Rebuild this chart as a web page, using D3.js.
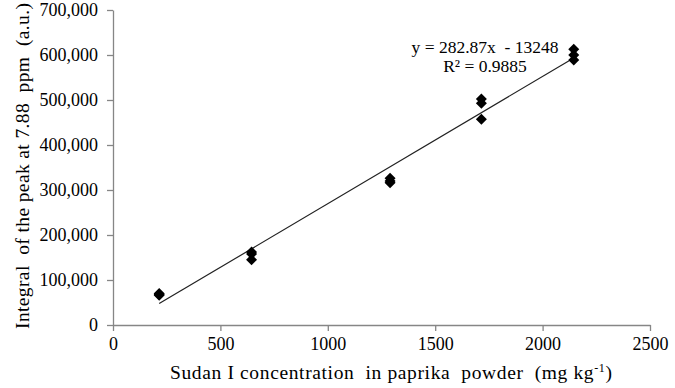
<!DOCTYPE html>
<html>
<head>
<meta charset="utf-8">
<script src="https://cdn.jsdelivr.net/npm/d3@7"></script>
<style>
  body { margin: 0; background: #fff; }
  svg { display: block; font-family: "Liberation Serif", "Times New Roman", serif; }
  text { white-space: pre; }
</style>
</head>
<body>
<script>
// concentrations (mg/kg) and replicate integrals
const concentrations = [215, 645, 1290, 1715, 2145];
const rep1 = [70000, 162000, 326000, 502000, 613000];
const rep2 = [68000, 158000, 320000, 493000, 600000];
const rep3 = [66000, 145000, 316000, 457000, 589000];

// linear fit shown on the chart
const fitSlope = 282.87;
const fitIntercept = -13248;
const fitLabels = ['y = 282.87x  - 13248', 'R² = 0.9885'];

const xTicks = [0, 500, 1000, 1500, 2000, 2500];
const yTicks = [0, 100000, 200000, 300000, 400000, 500000, 600000, 700000];

// flatten into points
const points = [];
concentrations.forEach((c, i) => {
  [rep1, rep2, rep3].forEach(r => points.push({ x: c, y: r[i] }));
});

const width = 675, height = 388;
const margin = { top: 10, right: 25, bottom: 63, left: 113 };

const svg = d3.select('body').append('svg')
  .attr('width', width)
  .attr('height', height);

const xScale = d3.scaleLinear()
  .domain([0, 2500])
  .range([margin.left, width - margin.right]);

const yScale = d3.scaleLinear()
  .domain([0, 700000])
  .range([height - margin.bottom, margin.top]);

// axes
const axisColor = '#868686';
const fmt = d3.format(',');

const xAxis = svg.append('g')
  .attr('transform', `translate(0,${yScale(0)})`)
  .call(d3.axisBottom(xScale).tickValues(xTicks).tickSize(6).tickSizeOuter(0).tickPadding(6).tickFormat(d => d));
xAxis.select('.domain').attr('stroke', axisColor).attr('stroke-width', 1.3);
xAxis.selectAll('.tick line').attr('stroke', axisColor).attr('stroke-width', 1.3);
xAxis.selectAll('text').attr('font-size', 18).attr('fill', '#000').attr('font-family', 'Liberation Serif');

const yAxis = svg.append('g')
  .attr('transform', `translate(${xScale(0)},0)`)
  .call(d3.axisLeft(yScale).tickValues(yTicks).tickSize(6).tickSizeOuter(0).tickPadding(9).tickFormat(fmt));
yAxis.select('.domain').attr('stroke', axisColor).attr('stroke-width', 1.3);
yAxis.selectAll('.tick line').attr('stroke', axisColor).attr('stroke-width', 1.3);
yAxis.selectAll('text').attr('font-size', 18).attr('fill', '#000').attr('font-family', 'Liberation Serif');

// trend line
const xMin = d3.min(concentrations), xMax = d3.max(concentrations);
svg.append('line')
  .attr('x1', xScale(xMin))
  .attr('y1', yScale(fitSlope * xMin + fitIntercept))
  .attr('x2', xScale(xMax))
  .attr('y2', yScale(fitSlope * xMax + fitIntercept))
  .attr('stroke', '#222')
  .attr('stroke-width', 1.2);

// diamond markers
const s = 5.5;
svg.append('g')
  .selectAll('path')
  .data(points)
  .join('path')
  .attr('transform', d => `translate(${xScale(d.x)},${yScale(d.y)})`)
  .attr('d', `M0,${-s}L${s},0L0,${s}L${-s},0Z`)
  .attr('fill', '#000');

// equation
svg.append('g')
  .selectAll('text')
  .data(fitLabels)
  .join('text')
  .attr('x', 485)
  .attr('y', (d, i) => 53 + i * 19)
  .attr('text-anchor', 'middle')
  .attr('font-size', 17.5)
  .text(d => d);

// axis titles
const xt = svg.append('text')
  .attr('x', 391)
  .attr('y', 379)
  .attr('text-anchor', 'middle')
  .attr('font-size', 19.5)
  .attr('textLength', 442)
  .attr('lengthAdjust', 'spacing');
xt.append('tspan').text('Sudan I concentration  in paprika  powder  (mg kg');
xt.append('tspan').attr('font-size', 12).attr('dy', -7).text('-1');
xt.append('tspan').attr('dy', 7).text(')');

svg.append('text')
  .attr('transform', `translate(29,166) rotate(-90)`)
  .attr('text-anchor', 'middle')
  .attr('font-size', 19.5)
  .attr('textLength', 326)
  .attr('lengthAdjust', 'spacing')
  .text('Integral  of the peak at 7.88  ppm  (a.u.)');
</script>
</body>
</html>
